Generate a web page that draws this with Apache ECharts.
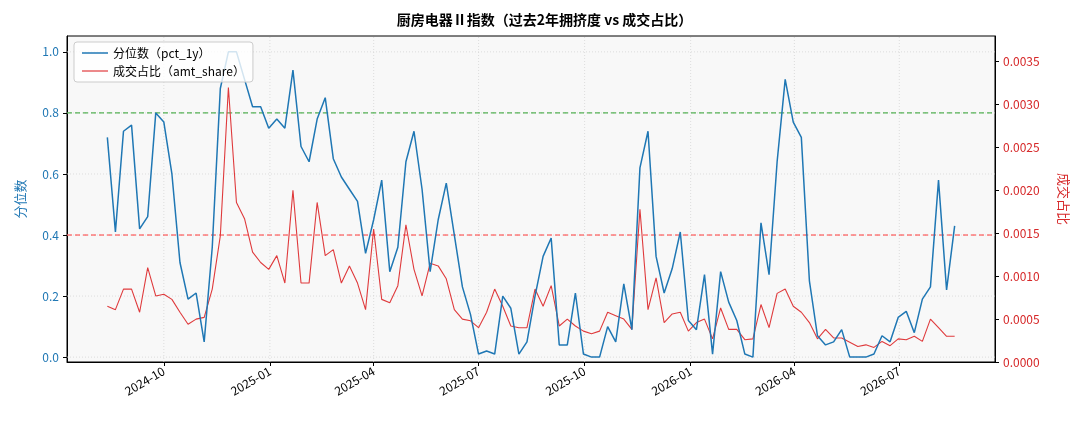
<!DOCTYPE html>
<html><head><meta charset="utf-8">
<script src="https://cdn.jsdelivr.net/npm/echarts@6/dist/echarts.min.js"></script>
<style>html,body{margin:0;padding:0;background:#fff}#c{width:1089px;height:429px}</style>
</head><body><div id="c"></div>
<script>
const startDate = '2024-08-13'; // weekly samples
const pct1y = [0.72,0.41,0.74,0.76,0.42,0.46,0.80,0.77,0.60,0.31,
0.19,0.21,0.05,0.36,0.88,1.00,1.00,0.91,0.82,0.82,
0.75,0.78,0.75,0.94,0.69,0.64,0.78,0.85,0.65,0.59,
0.55,0.51,0.34,0.45,0.58,0.28,0.36,0.64,0.74,0.55,
0.28,0.45,0.57,0.40,0.23,0.14,0.01,0.02,0.01,0.20,
0.16,0.01,0.05,0.20,0.33,0.39,0.04,0.04,0.21,0.01,
0.00,0.00,0.10,0.05,0.24,0.09,0.62,0.74,0.33,0.21,
0.29,0.41,0.12,0.09,0.27,0.01,0.28,0.18,0.12,0.01,
0.00,0.44,0.27,0.64,0.91,0.77,0.72,0.25,0.07,0.04,
0.05,0.09,0.00,0.00,0.00,0.01,0.07,0.05,0.13,0.15,
0.08,0.19,0.23,0.58,0.22,0.43];
const amtShare = [0.00065,0.00061,0.00085,0.00085,0.00058,0.00110,0.00077,0.00079,0.00073,0.00058,
0.00044,0.00050,0.00052,0.00085,0.00147,0.00320,0.00186,0.00167,0.00128,0.00116,
0.00108,0.00124,0.00092,0.00200,0.00092,0.00092,0.00186,0.00124,0.00131,0.00092,
0.00112,0.00092,0.00061,0.00155,0.00073,0.00069,0.00089,0.00160,0.00108,0.00077,
0.00115,0.00112,0.00097,0.00061,0.00050,0.00048,0.00040,0.00058,0.00085,0.00065,
0.00042,0.00040,0.00040,0.00085,0.00065,0.00089,0.00042,0.00050,0.00042,0.00036,
0.00033,0.00036,0.00058,0.00054,0.00050,0.00038,0.00178,0.00061,0.00098,0.00046,
0.00056,0.00058,0.00036,0.00046,0.00050,0.00027,0.00063,0.00038,0.00038,0.00026,
0.00027,0.00067,0.00040,0.00080,0.00085,0.00065,0.00058,0.00046,0.00027,0.00038,
0.00028,0.00028,0.00023,0.00018,0.00020,0.00017,0.00024,0.00019,0.00027,0.00026,
0.00030,0.00024,0.00050,0.00040,0.00030,0.00030];
const xTicks = ['2024-10-01','2025-01-01','2025-04-01','2025-07-01','2025-10-01','2026-01-01','2026-04-01','2026-07-01'];
const leftTicks = [0,0.2,0.4,0.6,0.8,1.0];
const rightTicks = [0,0.0005,0.001,0.0015,0.002,0.0025,0.003,0.0035];
const thresholds = [0.8,0.4];

const t0 = Date.parse(startDate+'T00:00:00Z');
const dates = pct1y.map((_,i)=>t0+i*7*86400000);
const xt = xTicks.map(d=>Date.parse(d+'T00:00:00Z'));
const XMIN = Date.parse('2024-07-09T00:00:00Z'), XMAX = Date.parse('2026-09-22T00:00:00Z');
const font = '"Noto Sans CJK SC","DejaVu Sans",sans-serif';
const BLUE='#1f77b4', RED='#df3a3c';
const ch = echarts.init(document.getElementById('c'));
function hline(v,color,type,width){
  return {type:'line',yAxisIndex:0,silent:true,symbol:'none',data:[[XMIN,v],[XMAX,v]],
    lineStyle:{color:color,type:type,width:width},z:1};
}
function vline(t){
  return {type:'line',yAxisIndex:0,silent:true,symbol:'none',data:[[t,-0.016],[t,1.052]],
    lineStyle:{color:'#d5d5d5',type:[1,2],width:0.8},z:1};
}
ch.setOption({
  animation:false,
  textStyle:{fontFamily:font},
  title:{text:'厨房电器Ⅱ指数（过去2年拥挤度 vs 成交占比）',left:'center',top:8,
    textStyle:{fontSize:14,fontWeight:'bold',color:'#000',fontFamily:font}},
  legend:{left:74,top:42,orient:'vertical',itemGap:6,itemWidth:26,itemHeight:10,
    backgroundColor:'rgba(255,255,255,0.8)',borderColor:'#ccc',borderWidth:1,borderRadius:3,padding:[5,8],
    textStyle:{fontSize:12,color:'#000'},
    data:[{name:'分位数（pct_1y）',icon:'path://M0,4L26,4L26,5.5L0,5.5Z',itemStyle:{color:BLUE}},
          {name:'成交占比（amt_share）',icon:'path://M0,4L26,4L26,5.2L0,5.2Z',itemStyle:{color:RED}}]},
  grid:{left:67,right:94,top:36,bottom:67,backgroundColor:'#f8f8f8',show:true,borderColor:'#000',borderWidth:1},
  xAxis:{type:'value',min:XMIN,max:XMAX,
    axisLine:{onZero:false,lineStyle:{color:'#000'}},
    axisTick:{show:true,customValues:xt,length:4,lineStyle:{color:'#000'}},
    axisLabel:{customValues:xt,rotate:30,fontSize:12,color:'#000',margin:8,
      formatter:v=>{const d=new Date(v);return d.getUTCFullYear()+'-'+String(d.getUTCMonth()+1).padStart(2,'0');}},
    splitLine:{show:false}},
  yAxis:[
    {type:'value',min:-0.016,max:1.052,position:'left',name:'分位数',nameLocation:'middle',nameGap:40,
     nameTextStyle:{color:BLUE,fontSize:13},
     axisLine:{show:true,lineStyle:{color:'#000'}},
     axisTick:{show:true,customValues:leftTicks,length:4,lineStyle:{color:'#000'}},
     axisLabel:{customValues:leftTicks,color:BLUE,fontSize:12,formatter:v=>v.toFixed(1)},
     splitLine:{show:false}},
    {type:'value',min:0,max:0.0038,position:'right',name:'成交占比',nameLocation:'middle',nameGap:62,nameRotate:-90,
     nameTextStyle:{color:'#d62728',fontSize:13},
     axisLine:{show:true,lineStyle:{color:'#000'}},
     axisTick:{show:true,customValues:rightTicks,length:4,lineStyle:{color:'#000'}},
     axisLabel:{customValues:rightTicks,color:'#d62728',fontSize:12,formatter:v=>v.toFixed(4)},
     splitLine:{show:false}}
  ],
  series:[
    ...leftTicks.map(v=>hline(v,'#d5d5d5',[1,2],0.8)),
    ...xt.map(vline),
    hline(thresholds[0],'#2ca02c',[5,3],1),
    hline(thresholds[1],'#ff3b3b',[5,3],1),
    {name:'分位数（pct_1y）',type:'line',yAxisIndex:0,symbol:'none',
     data:dates.map((d,i)=>[d,pct1y[i]]),lineStyle:{color:BLUE,width:1.5,type:'solid'},itemStyle:{color:BLUE},z:3},
    {name:'成交占比（amt_share）',type:'line',yAxisIndex:1,symbol:'none',
     data:dates.map((d,i)=>[d,amtShare[i]]),lineStyle:{color:RED,width:1.1,type:'solid'},itemStyle:{color:RED},z:2}
  ]
});
</script></body></html>
